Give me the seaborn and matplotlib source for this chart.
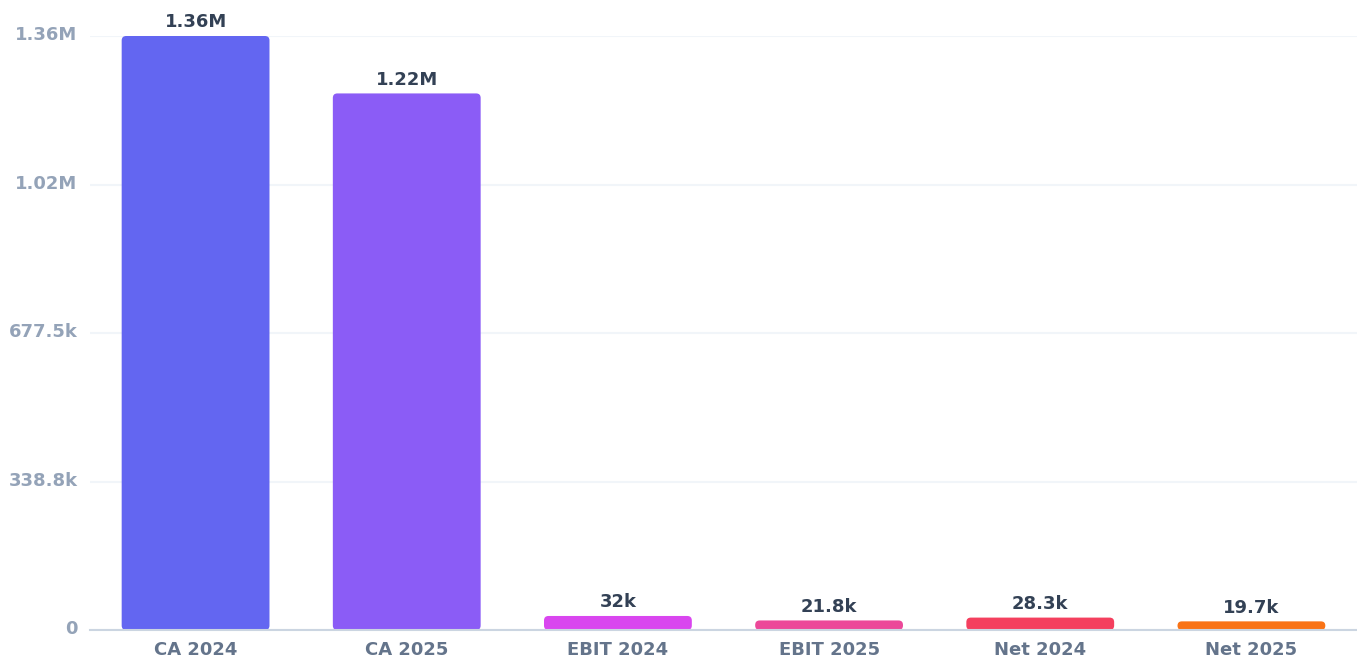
import matplotlib
matplotlib.use("Agg")
import matplotlib.pyplot as plt
import matplotlib.transforms as mtransforms
import seaborn as sns
import pandas as pd
from matplotlib.patches import FancyBboxPatch

categories = ["CA 2024", "CA 2025", "EBIT 2024", "EBIT 2025", "Net 2024", "Net 2025"]
values = [1355000, 1224000, 32000, 21800, 28300, 19700]
value_labels = ["1.36M", "1.22M", "32k", "21.8k", "28.3k", "19.7k"]
colors = ["#6366f1", "#8b5cf6", "#d946ef", "#ec4899", "#f43f5e", "#f97316"]
ytick_values = [0, 338750, 677500, 1016250, 1355000]
ytick_labels = ["0", "338.8k", "677.5k", "1.02M", "1.36M"]

sns.set_theme(style="white")
plt.rcParams['font.family'] = ['DejaVu Sans']

W, H = 1357, 657
fig = plt.figure(figsize=(W / 100, H / 100), dpi=100)
ax = fig.add_axes([90 / W, 1 - 630 / H, (W - 90) / W, (630 - 36) / H])

df = pd.DataFrame({"cat": categories, "val": values})
sns.barplot(data=df, x="cat", y="val", hue="cat", palette=colors, legend=False,
            width=0.7, ax=ax, saturation=1)

ax.set_ylim(0, ytick_values[-1])
ax.set_xlim(-0.5, len(categories) - 0.5)

# pixel scales
ax_h_px = 630 - 36
y_per_px = ytick_values[-1] / ax_h_px
x_per_px = len(categories) / (W - 90)
aspect = y_per_px / x_per_px
r_px = 4.5

patches = list(ax.patches)
for p, c in zip(patches, colors):
    x0, y0 = p.get_x(), p.get_y()
    w, h = p.get_width(), p.get_height()
    p.remove()
    rs = min(r_px, (h / y_per_px) / 2) * x_per_px
    fb = FancyBboxPatch((x0, y0), w, h,
                        boxstyle=f"round,pad=0,rounding_size={rs}",
                        mutation_aspect=aspect, facecolor=c, edgecolor="none",
                        zorder=3)
    ax.add_patch(fb)

for i, (v, lab) in enumerate(zip(values, value_labels)):
    ax.annotate(lab, (i, v), xytext=(0, 3.5), textcoords="offset points",
                ha="center", va="bottom", fontsize=13, fontweight="bold",
                color="#334155", annotation_clip=False)

ax.set_yticks(ytick_values)
ax.set_yticklabels(ytick_labels)
ax.set_xlabel("")
ax.set_ylabel("")
ax.tick_params(axis="y", length=0, pad=9, labelsize=13, labelcolor="#94a3b8")
ax.tick_params(axis="x", length=0, pad=8, labelsize=13, labelcolor="#64748b")
for lab in ax.get_xticklabels() + ax.get_yticklabels():
    lab.set_fontweight("bold")
shift = mtransforms.ScaledTranslation(0, 2.5 / 100, fig.dpi_scale_trans)
for lab in ax.get_yticklabels():
    lab.set_transform(lab.get_transform() + shift)

ax.grid(axis="y", color="#f1f5f9", linewidth=1.5, zorder=0)
ax.set_axisbelow(True)
for s in ["top", "right", "left"]:
    ax.spines[s].set_visible(False)
ax.spines["bottom"].set_color("#cbd5e1")
ax.spines["bottom"].set_linewidth(1.5)
ax.spines["bottom"].set_zorder(4)

fig.savefig("out.png", dpi=100, facecolor="white")
